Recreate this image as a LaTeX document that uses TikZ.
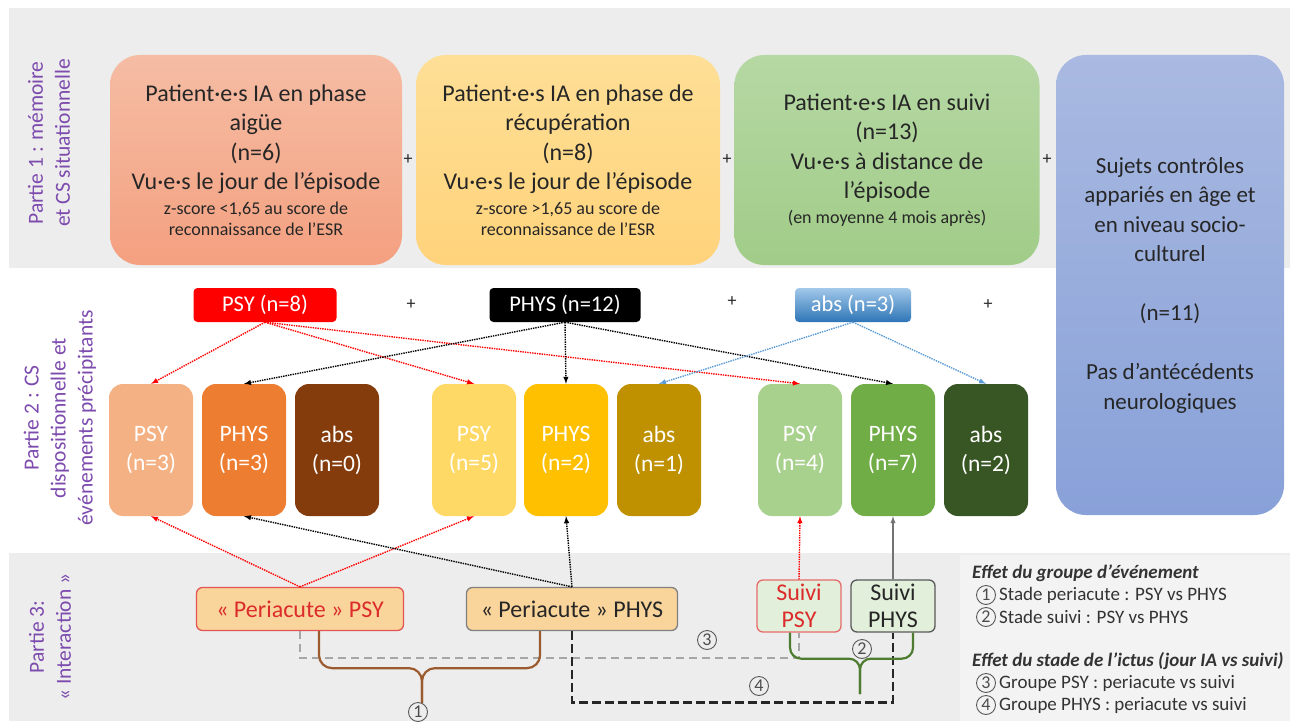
\documentclass[tikz,border=0pt]{standalone}
\usepackage{fontspec}
\setmainfont{Carlito}
\usetikzlibrary{shapes,arrows}
\usepackage{xcolor}

\definecolor{bandgrey}{HTML}{EDEDED}
\definecolor{legendgrey}{HTML}{F3F3F3}
\definecolor{partviolet}{HTML}{7D4BAE}
\definecolor{acuteT}{HTML}{F5BDA4}
\definecolor{acuteB}{HTML}{F4A080}
\definecolor{recupT}{HTML}{FEDF96}
\definecolor{recupB}{HTML}{FFD37B}
\definecolor{suiviT}{HTML}{B6D8A4}
\definecolor{suiviB}{HTML}{A1CC88}
\definecolor{ctrlT}{HTML}{A9B9E1}
\definecolor{ctrlB}{HTML}{88A1D8}
\definecolor{psyA}{HTML}{F4B183}
\definecolor{physA}{HTML}{ED7D31}
\definecolor{absA}{HTML}{843C0C}
\definecolor{psyR}{HTML}{FFD966}
\definecolor{physR}{HTML}{FFC000}
\definecolor{absR}{HTML}{BF9000}
\definecolor{psyS}{HTML}{A9D18E}
\definecolor{physS}{HTML}{70AD47}
\definecolor{absS}{HTML}{375623}
\definecolor{absT}{HTML}{A2C8EA}
\definecolor{absB}{HTML}{2E75B6}
\definecolor{absBlue}{HTML}{5B9BD5}
\definecolor{periFill}{HTML}{F9D59B}
\definecolor{suiviFill}{HTML}{E2EFDA}
\definecolor{psyRed}{HTML}{DC2B2B}
\definecolor{braceBrown}{HTML}{9C5B2E}
\definecolor{braceGreen}{HTML}{4E7D32}

\newcommand{\petit}{\fontsize{18}{22}\selectfont}

\begin{document}
\begin{tikzpicture}[x=1pt,y=-1pt,
    topbox/.style={rounded corners=30pt, align=center, inner sep=0pt, text=black!85,
                   font=\fontsize{24}{29.5}\selectfont},
    group/.style={rounded corners=14pt, minimum width=84pt, minimum height=132pt, inner sep=0pt,
                  align=center, text=white, font=\fontsize{23.5}{29}\selectfont},
    event/.style={rounded corners=4pt, minimum height=34pt, inner sep=0pt, text=white,
                  font=\fontsize{22.5}{26}\selectfont},
    stage/.style={rounded corners=6pt, draw, line width=1.3pt, inner sep=0pt, align=center,
                  font=\fontsize{24}{27}\selectfont},
    plus/.style={font=\fontsize{18}{18}\selectfont, text=black!85},
    part/.style={rotate=90, align=center, text=partviolet, font=\fontsize{21.5}{27}\selectfont},
    num/.style={circle, draw=black!65, line width=0.9pt, inner sep=0pt, minimum size=19pt,
                text=black!70, font=\fontsize{18}{18}\selectfont},
    legend/.style={anchor=west, inner sep=0pt, text=black!80, font=\fontsize{19}{22}\selectfont},
    redlink/.style={densely dotted, line width=1.4pt, color=red, -latex},
    blacklink/.style={densely dotted, line width=1.4pt, color=black, -latex},
    bluelink/.style={densely dotted, line width=1.4pt, color=absBlue, -latex},
    greydash/.style={dash pattern=on 8pt off 5pt, line width=1.8pt, color=black!35},
    blackdash/.style={dash pattern=on 9pt off 4pt, line width=2.8pt, color=black!85},
    brace/.style={line width=2.2pt, rounded corners=13pt}]
    \useasboundingbox (0,0) rectangle (1296,725);
    % Bands
    \fill[bandgrey] (9,8) rectangle (1290,268);
    \fill[bandgrey] (9,553) rectangle (1290,721);
    \fill[legendgrey] (960,555) rectangle (1290,721);

    % Place nodes
    \node[part] (part1) at (49,143) {Partie 1 : mémoire\\et CS situationnelle};
    \node[part] (part2) at (60,418) {Partie 2 : CS\\dispositionnelle et\\événements précipitants};
    \node[part] (part3) at (50,637) {Partie 3:\\« Interaction »};

    \node[topbox, top color=acuteT, bottom color=acuteB, minimum width=292pt, minimum height=210pt]
        (acute) at (256,160) {Patient·e·s IA en phase\\aigüe\\(n=6)\\Vu·e·s le jour de l’épisode\\[-5pt]
        {\petit z-score <1,65 au score de}\\[-8pt]{\petit reconnaissance de l’ESR}};
    \node[topbox, top color=recupT, bottom color=recupB, minimum width=304pt, minimum height=210pt]
        (recup) at (568,160) {Patient·e·s IA en phase de\\récupération\\(n=8)\\Vu·e·s le jour de l’épisode\\[-5pt]
        {\petit z-score >1,65 au score de}\\[-8pt]{\petit reconnaissance de l’ESR}};
    \node[topbox, top color=suiviT, bottom color=suiviB, minimum width=305pt, minimum height=210pt]
        (suivi) at (887,160) {Patient·e·s IA en suivi\\(n=13)\\Vu·e·s à distance de\\l’épisode\\[-5pt]
        {\petit (en moyenne 4 mois après)}};
    \node[topbox, top color=ctrlT, bottom color=ctrlB, minimum width=228pt, minimum height=460pt,
        font=\fontsize{23}{29.5}\selectfont]
        (ctrl) at (1170,285) {Sujets contrôles\\appariés en âge et\\en niveau socio-\\culturel\\[29.5pt]
        (n=11)\\[29.5pt]Pas d’antécédents\\neurologiques};

    \node[plus] (p1) at (408,160) {+};
    \node[plus] (p2) at (727,160) {+};
    \node[plus] (p3) at (1047,160) {+};

    \node[event, fill=red, minimum width=143pt] (psyEv) at (265,305) {PSY (n=8)};
    \node[event, fill=black, minimum width=151pt] (physEv) at (565,305) {PHYS (n=12)};
    \node[event, top color=absT, bottom color=absB, minimum width=116pt] (absEv) at (853,305) {abs (n=3)};

    \node[plus] (p4) at (411,305) {+};
    \node[plus] (p5) at (732,302) {+};
    \node[plus] (p6) at (988,305) {+};

    \node[group, fill=psyA] (psyA) at (151,450) {PSY\\(n=3)};
    \node[group, fill=physA] (physA) at (244,450) {PHYS\\(n=3)};
    \node[group, fill=absA] (absA) at (337,450) {abs\\(n=0)};
    \node[group, fill=psyR] (psyR) at (474,450) {PSY\\(n=5)};
    \node[group, fill=physR] (physR) at (566,450) {PHYS\\(n=2)};
    \node[group, fill=absR] (absR) at (659,450) {abs\\(n=1)};
    \node[group, fill=psyS] (psyS) at (800,450) {PSY\\(n=4)};
    \node[group, fill=physS] (physS) at (893,450) {PHYS\\(n=7)};
    \node[group, fill=absS] (absS) at (986,450) {abs\\(n=2)};

    \node[stage, fill=periFill, draw=psyRed!80, text=psyRed, minimum width=207pt, minimum height=43pt]
        (periPSY) at (300,609) {« Periacute » PSY};
    \node[stage, fill=periFill, draw=black!50, text=black!85, minimum width=211pt, minimum height=43pt]
        (periPHYS) at (572,609) {« Periacute » PHYS};
    \node[stage, fill=suiviFill, draw=psyRed!70, text=psyRed, minimum width=84pt, minimum height=52pt]
        (suiviPSY) at (799,606) {Suivi\\PSY};
    \node[stage, fill=suiviFill, draw=black!65, text=black!85, minimum width=84pt, minimum height=52pt]
        (suiviPHYS) at (893,606) {Suivi\\PHYS};

    % Draw edges
    \draw[redlink] (psyEv.south) -- (psyA.north);
    \draw[redlink] (psyEv.south) -- (psyR.north);
    \draw[redlink] (psyEv.south) -- (psyS.north);
    \draw[blacklink] (physEv.south) -- (physA.north);
    \draw[blacklink] (physEv.south) -- (physR.north);
    \draw[blacklink] (physEv.south) -- (physS.north);
    \draw[bluelink] (absEv.south) -- (absR.north);
    \draw[bluelink] (absEv.south) -- (absS.north);
    \draw[redlink] (periPSY.north) -- (psyA.south);
    \draw[redlink] (periPSY.north) -- (psyR.south);
    \draw[blacklink] (periPHYS.north) -- (physA.south);
    \draw[blacklink] (periPHYS.north) -- (physR.south);
    \draw[redlink] (suiviPSY.north) -- (psyS.south);
    \draw[line width=1.4pt, black!55, -latex] (suiviPHYS.north) -- (physS.south);

    % Comparisons
    \draw[greydash] (periPSY.south) -- ++(0,27) -| (suiviPSY.south);
    \draw[blackdash] (periPHYS.south) -- ++(0,71) -| (suiviPHYS.south);
    \coordinate (tipA) at (422,703);
    \coordinate (tipB) at (860,694);
    \draw[brace, braceBrown] ([xshift=19pt]periPSY.south) -- ++(0,37) -| (tipA);
    \draw[brace, braceBrown] ([xshift=-32pt]periPHYS.south) -- ++(0,37) -| (tipA);
    \draw[brace, braceGreen, rounded corners=11pt] ([xshift=-9pt]suiviPSY.south) -- ++(0,26) -| (tipB);
    \draw[brace, braceGreen, rounded corners=11pt] ([xshift=20pt]suiviPHYS.south) -- ++(0,26) -| (tipB);

    \node[num] (n1) at (418,712) {1};
    \node[num] (n2) at (862,649) {2};
    \node[num] (n3) at (707,640) {3};
    \node[num] (n4) at (759,686) {4};

    % Legend
    \node[legend, font=\fontsize{19}{22}\selectfont\bfseries\itshape] (head1) at (972,573) {Effet du groupe d’événement};
    \node[num] (l1) at (986,595) {1};
    \node[legend] (t1) at (999,595) {Stade periacute : PSY vs PHYS};
    \node[num] (l2) at (986,617) {2};
    \node[legend] (t2) at (999,617) {Stade suivi : PSY vs PHYS};
    \node[legend, font=\fontsize{19}{22}\selectfont\bfseries\itshape] (head2) at (972,661) {Effet du stade de l’ictus (jour IA vs suivi)};
    \node[num] (l3) at (986,683) {3};
    \node[legend] (t3) at (999,683) {Groupe PSY : periacute vs suivi};
    \node[num] (l4) at (986,705) {4};
    \node[legend] (t4) at (999,705) {Groupe PHYS : periacute vs suivi};
\end{tikzpicture}
\end{document}
